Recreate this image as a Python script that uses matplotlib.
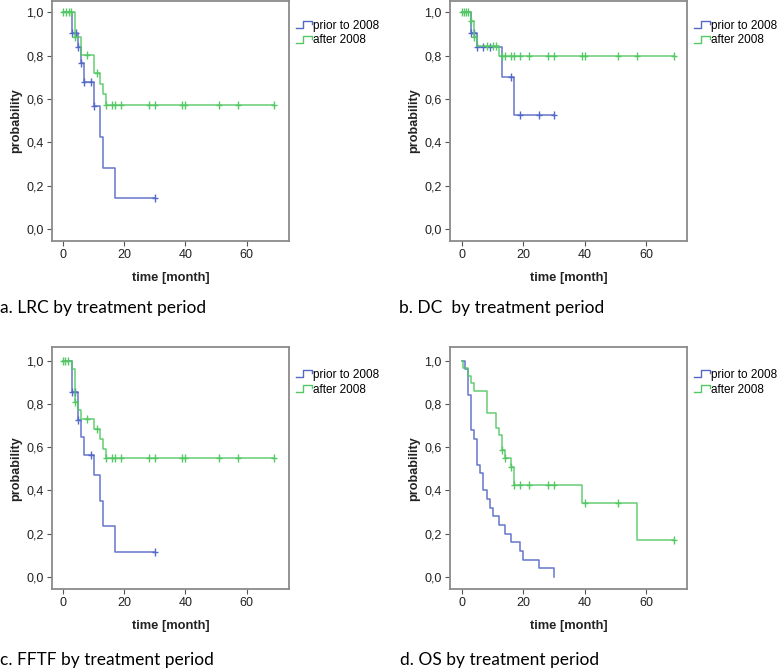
import numpy as np
import matplotlib
matplotlib.use("Agg")
import matplotlib.pyplot as plt
from matplotlib.lines import Line2D
from matplotlib.legend_handler import HandlerBase

# ---------------- data ----------------
series_names = ["prior to 2008", "after 2008"]
captions = ["a. LRC by treatment period", "b. DC  by treatment period",
            "c. FFTF by treatment period", "d. OS by treatment period"]
x_ticks = [0, 20, 40, 60]
y_ticks = [0.0, 0.2, 0.4, 0.6, 0.8, 1.0]
y_tick_labels = ["0,0", "0,2", "0,4", "0,6", "0,8", "1,0"]

# a. LRC
a_prior_t = [3, 5, 6, 7, 10, 12, 13, 17]
a_prior_s = [0.904, 0.840, 0.765, 0.680, 0.566, 0.425, 0.283, 0.142]
a_prior_c = [3, 4.2, 5, 6, 7, 9, 10, 30]
a_after_t = [4, 6, 10, 12, 13, 14]
a_after_s = [0.885, 0.804, 0.720, 0.671, 0.622, 0.575]
a_after_c = [0, 0.9, 1.8, 2.6, 4, 8, 11, 14, 16, 17, 19, 28, 30, 39, 40, 51, 57, 69]

# b. DC
b_prior_t = [3, 5, 13, 17]
b_prior_s = [0.905, 0.842, 0.700, 0.526]
b_prior_c = [3, 4, 5, 7, 9, 16, 19, 25, 30]
b_after_t = [3, 4, 5, 12]
b_after_s = [0.962, 0.885, 0.846, 0.797]
b_after_c = [0, 0.7, 1.3, 2, 3, 4, 8, 10, 11, 13, 14, 16, 17, 19, 22, 28, 30, 39, 40, 51, 57, 69]

# c. FFTF
c_prior_t = [3, 5, 6, 7, 10, 12, 13, 17]
c_prior_s = [0.857, 0.724, 0.645, 0.565, 0.470, 0.352, 0.235, 0.117]
c_prior_c = [3, 4, 5, 9, 30]
c_after_t = [3, 4, 5, 6, 10, 12, 13, 14]
c_after_s = [0.963, 0.810, 0.770, 0.730, 0.686, 0.638, 0.594, 0.549]
c_after_c = [0, 0.8, 1.6, 4, 8, 11, 14, 16, 17, 19, 28, 30, 39, 40, 51, 57, 69]

# d. OS
d_prior_t = [1, 2, 3, 4, 5, 6, 7, 8, 9, 10, 12, 14, 16, 19, 20, 25, 30]
d_prior_s = [0.96, 0.84, 0.68, 0.64, 0.52, 0.48, 0.40, 0.36, 0.32, 0.28,
             0.24, 0.20, 0.16, 0.12, 0.08, 0.04, 0.0]
d_prior_c = []
d_after_t = [0.3, 2, 3, 4, 8, 11, 12, 13, 14, 16, 17, 39, 57]
d_after_s = [0.966, 0.931, 0.897, 0.862, 0.759, 0.690, 0.655, 0.586, 0.549,
             0.510, 0.425, 0.340, 0.170]
d_after_c = [13, 14, 16, 17, 19, 22, 28, 30, 40, 51, 69]

panels = [
    (a_prior_t, a_prior_s, a_prior_c, a_after_t, a_after_s, a_after_c),
    (b_prior_t, b_prior_s, b_prior_c, b_after_t, b_after_s, b_after_c),
    (c_prior_t, c_prior_s, c_prior_c, c_after_t, c_after_s, c_after_c),
    (d_prior_t, d_prior_s, d_prior_c, d_after_t, d_after_s, d_after_c),
]

# ---------------- style ----------------
W, H = 778, 669
BLUE = "#5468c8"
GREEN = "#55c765"
FRAME = "#8a8a8a"
TICKFONT = "Liberation Sans"
CAPFONT = "Lato"

fig = plt.figure(figsize=(W / 100, H / 100), dpi=100)

def fx(px):
    return px / W

def fy(py):
    return 1 - py / H

# axes boxes in pixel coords: left, top, right, bottom
boxes = [(52, 0.5, 289, 241), (450, 0.5, 687, 241),
         (52, 347.3, 289, 589), (450, 347.3, 687, 589)]
xlims = [(-3.59, 73.8), (-3.92, 73.4), (-3.59, 73.8), (-3.92, 73.4)]
ylims = [(-0.0554, 1.0554), (-0.0554, 1.0554), (-0.0555, 1.062), (-0.0555, 1.062)]
legend_pos = [(296, 19.5), (694, 19.5), (296, 369), (694, 369)]
caption_pos = [(0, 308), (399, 308), (0, 660), (400, 660)]


class StepHandler(HandlerBase):
    def create_artists(self, legend, orig_handle, xdescent, ydescent,
                       width, height, fontsize, trans):
        x0 = -xdescent
        y0 = -ydescent
        xs = [x0, x0 + 0.45 * width, x0 + 0.45 * width, x0 + width, x0 + width]
        ys = [y0 + 0.05 * height, y0 + 0.05 * height, y0 + 0.95 * height,
              y0 + 0.95 * height, y0 + 0.6 * height]
        ln = Line2D(xs, ys, color=orig_handle.get_color(), lw=1.0)
        ln.set_transform(trans)
        return [ln]


def km_curve(ax, t, s, c, color):
    t = np.asarray(t, float)
    s = np.asarray(s, float)
    end = max([t.max()] + list(c))
    xs = np.concatenate([[0.0], t, [end]])
    ys = np.concatenate([[1.0], s, [s[-1]]])
    ax.step(xs, ys, where="post", color=color, lw=1.1, alpha=0.9)
    if len(c):
        c = np.asarray(c, float)
        idx = np.searchsorted(t, c, side="right")
        cs = np.where(idx == 0, 1.0, s[np.maximum(idx - 1, 0)])
        ax.plot(c, cs, ls="none", marker="|", ms=6, mew=1.0, color=color)
        ax.plot(c, cs, ls="none", marker="_", ms=4, mew=1.0, color=color)
    return ax


for i, (pt, ps, pc, at, as_, ac) in enumerate(panels):
    l, t, r, b = boxes[i]
    ax = fig.add_axes([fx(l), fy(b), fx(r - l), (b - t) / H])
    km_curve(ax, pt, ps, pc, BLUE)
    km_curve(ax, at, as_, ac, GREEN)
    ax.set_xlim(*xlims[i])
    ax.set_ylim(*ylims[i])
    ax.set_xticks(x_ticks)
    ax.set_xticklabels([str(v) for v in x_ticks], fontsize=9, family=TICKFONT)
    ax.set_yticks(y_ticks)
    ax.set_yticklabels(y_tick_labels, fontsize=9, family=TICKFONT)
    ax.tick_params(direction="out", length=3.6, width=0.8, color="#555555",
                   pad=2.5, labelcolor="#222222")
    for sp in ax.spines.values():
        sp.set_color(FRAME)
        sp.set_linewidth(1.3)
    ax.set_xlabel("time [month]", fontsize=9.3, fontweight="bold",
                  family=TICKFONT, va="center", color="#222222")
    ax.xaxis.set_label_coords(0.5, -36.5 / (b - t))
    ax.set_ylabel("probability", fontsize=9.1, fontweight="bold",
                  family=TICKFONT, va="center", color="#222222")
    ax.yaxis.set_label_coords(-36 / (r - l), 0.5)

    h1 = Line2D([], [], color=BLUE)
    h2 = Line2D([], [], color=GREEN)
    lx, ly = legend_pos[i]
    fig.legend([h1, h2], series_names, loc="upper left",
               bbox_to_anchor=(fx(lx), fy(ly)), frameon=False,
               handler_map={Line2D: StepHandler()},
               prop={"family": TICKFONT, "size": 8.5},
               handlelength=1.35, handleheight=0.6, handletextpad=0.05,
               labelspacing=0.25, borderpad=0, borderaxespad=0)

    cx, cy = caption_pos[i]
    fig.text(fx(cx), fy(cy), captions[i], fontsize=12.5, family=CAPFONT,
             ha="left", va="center", color="#000000")

fig.savefig("out.png", dpi=100)
